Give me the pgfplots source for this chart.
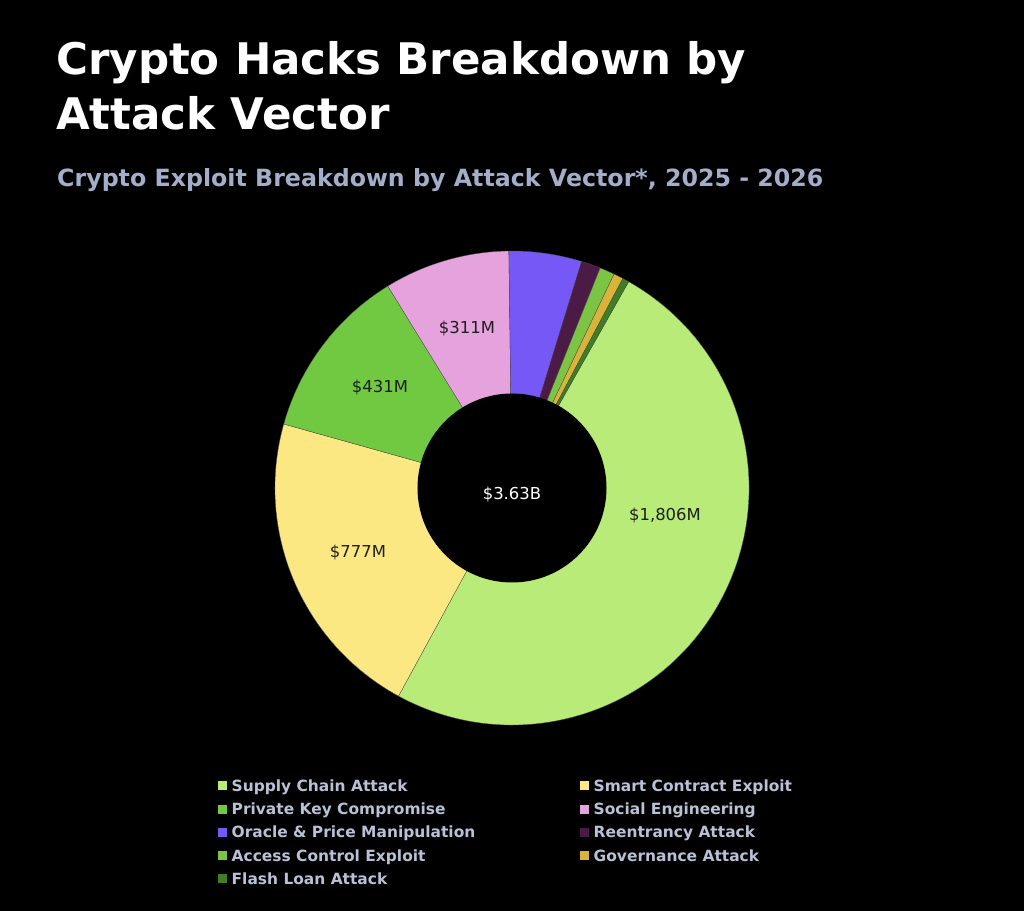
\documentclass[border=0pt]{standalone}
\usepackage{pgfplots}
\pgfplotsset{compat=1.18}
\usepackage{pgfplotstable}
\usepackage{fontspec}
\setmainfont{DejaVu Sans}

\definecolor{cSupply}{HTML}{B8EB78}
\definecolor{cSmart}{HTML}{FCE883}
\definecolor{cPrivate}{HTML}{70C940}
\definecolor{cSocial}{HTML}{E6A2DD}
\definecolor{cOracle}{HTML}{7558F5}
\definecolor{cReent}{HTML}{4B1A45}
\definecolor{cAccess}{HTML}{7CC443}
\definecolor{cGov}{HTML}{D9B43A}
\definecolor{cFlash}{HTML}{3F7E22}
\definecolor{subtitle}{HTML}{A2AECA}
\definecolor{legtext}{HTML}{B9C1D7}
\definecolor{lbl}{HTML}{1E1E1E}

\pgfplotstableread[col sep=comma,row sep=\\]{
name,value,col\\
Supply Chain Attack,1806,cSupply\\
Smart Contract Exploit,777,cSmart\\
Private Key Compromise,431,cPrivate\\
Social Engineering,311,cSocial\\
Oracle \& Price Manipulation,180,cOracle\\
Reentrancy Attack,48,cReent\\
Access Control Exploit,37,cAccess\\
Governance Attack,24,cGov\\
Flash Loan Attack,16,cFlash\\
}\hacks

\begin{document}
\pgfplotstablegetrowsof{\hacks}%
\pgfmathtruncatemacro{\N}{\pgfplotsretval-1}%
\xdef\total{0}%
\pgfplotsforeachungrouped \i in {0,...,\N}{%
  \pgfplotstablegetelem{\i}{value}\of\hacks
  \pgfmathsetmacro\tmp{\total+\pgfplotsretval}%
  \xdef\total{\tmp}}%
\begin{tikzpicture}
\fill[black] (0,0) rectangle (1024bp,911bp);
\begin{axis}[at={(0,0)},anchor=south west,scale only axis,
  width=1024bp,height=911bp,xmin=0,xmax=1024,ymin=0,ymax=911,
  hide axis,clip=false]
\xdef\cur{60.5}%
\pgfplotsforeachungrouped \i in {0,...,\N}{%
  \pgfplotstablegetelem{\i}{value}\of\hacks
  \pgfmathsetmacro\sw{\pgfplotsretval/\total*360}%
  \pgfmathsetmacro\nxt{\cur-\sw}%
  \pgfplotstablegetelem{\i}{col}\of\hacks
  \edef\cc{\pgfplotsretval}%
  \pgfplotstablegetelem{\i}{name}\of\hacks
  \let\nm\pgfplotsretval
  \edef\temp{\noexpand\fill[\cc,draw=black!70,line width=0.3bp] (axis cs:512,423) -- ++(\cur:237bp) arc[start angle=\cur,end angle=\nxt,radius=237bp] -- cycle;}%
  \temp
  \xdef\cur{\nxt}%
  \pgfmathtruncatemacro\cl{mod(\i,2)}%
  \pgfmathtruncatemacro\rw{floor(\i/2)}%
  \pgfmathsetmacro\lxa{218+362*\cl}%
  \pgfmathsetmacro\lxb{\lxa+8.5}%
  \pgfmathsetmacro\lxt{\lxa+13.5}%
  \pgfmathsetmacro\lyc{125-23.2*\rw}%
  \pgfmathsetmacro\lya{\lyc-4.5}%
  \pgfmathsetmacro\lyb{\lyc+4.5}%
  \pgfmathsetmacro\lyt{\lyc-5.6}%
  \edef\temp{\noexpand\fill[\cc] (axis cs:\lxa,\lya) rectangle (axis cs:\lxb,\lyb);
    \noexpand\node[anchor=base west,inner sep=0pt,text=legtext,font=\noexpand\bfseries\noexpand\fontsize{15.5}{18}\noexpand\selectfont] at (axis cs:\lxt,\lyt) {\unexpanded\expandafter{\nm}};}%
  \temp
}
\fill[black] (axis cs:512,423) circle[radius=94.5bp];
\node[text=lbl,font=\fontsize{16.5}{20}\selectfont] at (axis cs:665,396) {\$1,806M};
\node[text=lbl,font=\fontsize{16.5}{20}\selectfont] at (axis cs:358,359) {\$777M};
\node[text=lbl,font=\fontsize{16.5}{20}\selectfont] at (axis cs:380,524) {\$431M};
\node[text=lbl,font=\fontsize{16.5}{20}\selectfont] at (axis cs:467,583) {\$311M};
\node[text=white,font=\fontsize{16.5}{20}\selectfont] at (axis cs:512,417) {\$3.63B};
\node[anchor=base west,inner sep=0pt,text=white,font=\bfseries\fontsize{43.7}{52}\selectfont] at (axis cs:56,836) {Crypto Hacks Breakdown by};
\node[anchor=base west,inner sep=0pt,text=white,font=\bfseries\fontsize{43.7}{52}\selectfont] at (axis cs:56,781) {Attack Vector};
\node[anchor=base west,inner sep=0pt,text=subtitle,font=\bfseries\fontsize{23.8}{28}\selectfont] at (axis cs:57,724) {Crypto Exploit Breakdown by Attack Vector*, 2025 - 2026};
\end{axis}
\end{tikzpicture}
\end{document}
